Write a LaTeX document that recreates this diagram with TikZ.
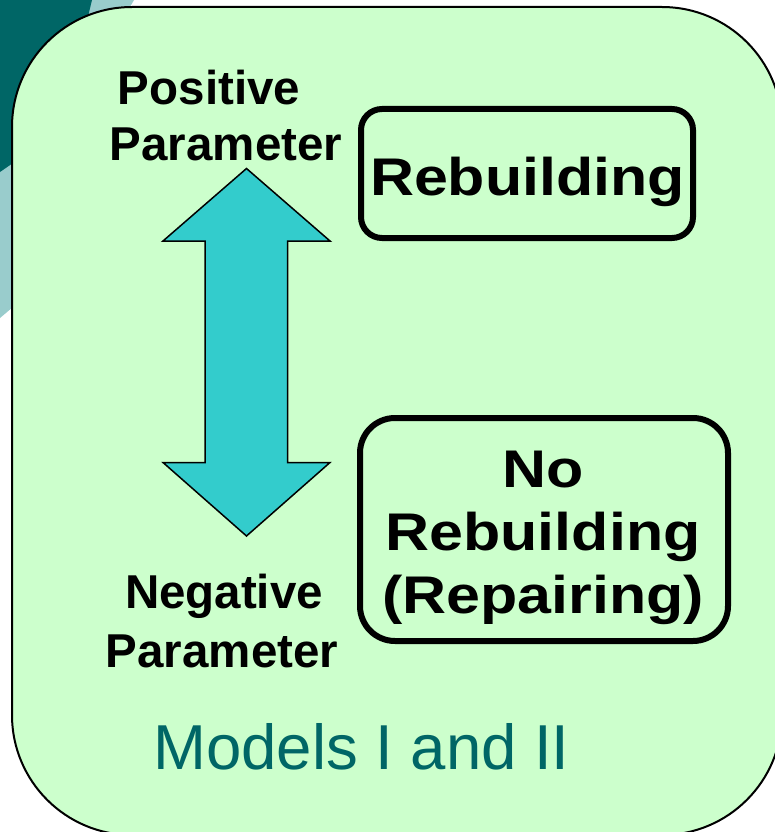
\documentclass[tikz,border=0pt]{standalone}
\usepackage{fontspec}
\setmainfont{Liberation Sans}
\newfontfamily\wideface[FakeStretch=1.15]{Liberation Sans}

\definecolor{darkteal}{HTML}{006666}
\definecolor{lightteal}{HTML}{99CCCC}
\definecolor{panelgreen}{HTML}{CCFFCC}
\definecolor{arrowcyan}{HTML}{33CCCC}

\tikzset{
  panel/.style={draw=black, line width=2pt, fill=panelgreen, rounded corners=120pt},
  statebox/.style={draw=black, line width=6pt, inner sep=0pt, outer sep=0pt},
  sidelabel/.style={anchor=base, inner sep=0pt, font=\bfseries\fontsize{47.5}{55}\selectfont},
  boxlabel/.style={anchor=base, inner sep=0pt, font=\wideface\bfseries\fontsize{53}{63}\selectfont},
  caption/.style={anchor=base west, inner sep=0pt, text=darkteal, font=\fontsize{63.5}{70}\selectfont},
  bigarrow/.style={draw=black, line width=1.5pt, fill=arrowcyan, line join=miter}
}

\begin{document}
\begin{tikzpicture}[x=1pt, y=-1pt]
\useasboundingbox (0,0) rectangle (775,832);
\clip (0,0) rectangle (775,832);

% backdrop shapes in the corner
\fill[lightteal] (0,0) -- (134,0) -- (100,60) -- (13,307) -- (0,318) -- cycle;
\fill[darkteal] (0,0) -- (92,0) -- (86,25) -- (13,163) -- (0,172) -- cycle;

% main panel
\draw[panel] (12,7) rectangle (782,835);

% double-headed arrow
\draw[bigarrow] (246.5,168.5) -- (330,241) -- (287.5,241) -- (287.5,462.5)
  -- (330,462.5) -- (246.5,536) -- (163,462.5) -- (205,462.5) -- (205,241)
  -- (163,241) -- cycle;

% state boxes
\node[statebox, rounded corners=21pt, minimum width=332pt, minimum height=129pt]
  (rebuild) at (527,173.5) {};
\node[statebox, rounded corners=35pt, minimum width=368pt, minimum height=223pt]
  (norebuild) at (544,529.5) {};

\node[boxlabel] (rebuildtxt) at (527.5,195) {Rebuilding};
\node[boxlabel] (notxt1) at (543,487) {No};
\node[boxlabel] (notxt2) at (543,550) {Rebuilding};
\node[boxlabel] (notxt3) at (543,613) {(Repairing)};

% parameter labels
\node[sidelabel] (pos1) at (209,105) {Positive};
\node[sidelabel] (pos2) at (226,160) {Parameter};
\node[sidelabel] (neg1) at (224,608) {Negative};
\node[sidelabel] (neg2) at (222,667) {Parameter};

% caption
\node[caption] (models) at (153,769) {Models I and II};
\end{tikzpicture}
\end{document}
